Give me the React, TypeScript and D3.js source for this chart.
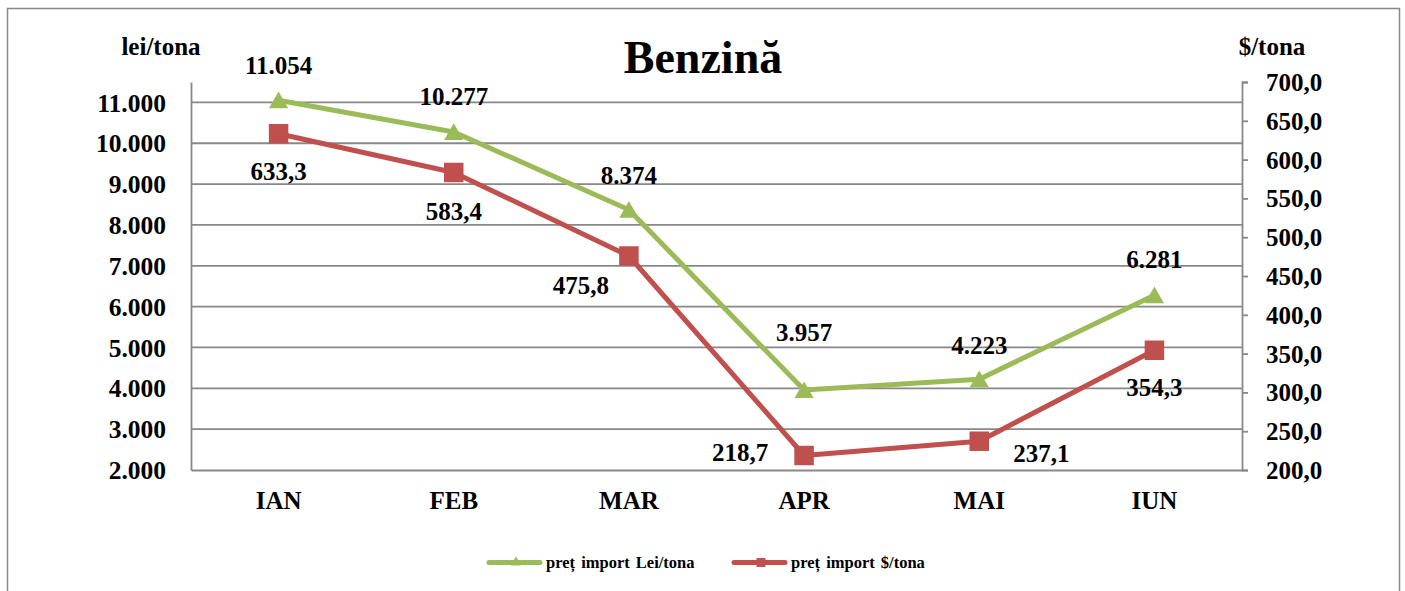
import React, { useEffect, useRef } from 'react';
import * as d3 from 'd3';

const months = ['IAN', 'FEB', 'MAR', 'APR', 'MAI', 'IUN'];
const leiValues = [11054, 10277, 8374, 3957, 4223, 6281];
const usdValues = [633.3, 583.4, 475.8, 218.7, 237.1, 354.3];
const leiTicks = [2000, 3000, 4000, 5000, 6000, 7000, 8000, 9000, 10000, 11000];
const usdTicks = [200, 250, 300, 350, 400, 450, 500, 550, 600, 650, 700];
const seriesNames = ['preț import Lei/tona', 'preț import $/tona'];

// label offsets (dx, dy) relative to marker, like manual Excel label placement
const leiLabelPos = [[0, -35], [0, -35], [0, -34], [0, -58], [0, -34], [0, -36]];
const usdLabelPos = [[0, 38], [0, 39], [-48, 30], [-64, -3], [62, 12], [0, 37]];

const W = 1405;
const H = 591;
const FONT = 'Liberation Serif, Tinos, serif';
const GREEN = '#9BBB59';
const RED = '#C0504D';
const GRID = '#888';

const fmtLei = (v: number) => d3.format(',')(v).replace(/,/g, '.');
const fmtUsd = (v: number) => v.toFixed(1).replace('.', ',');

export default function App() {
    const svgRef = useRef<SVGSVGElement>(null);

    useEffect(() => {
        const svg = d3.select(svgRef.current);
        svg.selectAll('*').remove();
        svg.style('font-family', FONT).style('font-weight', 'bold');

        const margin = { top: 82, right: 163, bottom: 121, left: 191 };
        const width = W - margin.left - margin.right;
        const height = H - margin.top - margin.bottom;

        // outer frame
        svg.append('path')
            .attr('d', `M7.5,${H + 5} V8.5 H1399.5 V${H + 5}`)
            .attr('fill', 'none')
            .attr('stroke', GRID)
            .attr('stroke-width', 1.5);

        const chart = svg.append('g')
            .attr('transform', `translate(${margin.left},${margin.top})`);

        const x = d3.scaleBand().domain(months).range([0, width]);
        const yLei = d3.scaleLinear().domain([2000, 11500]).range([height, 0]);
        const yUsd = d3.scaleLinear().domain([200, 700]).range([height, 0]);
        const cx = (m: string) => (x(m) as number) + x.bandwidth() / 2;

        // gridlines
        chart.append('g')
            .selectAll('line')
            .data(leiTicks.slice(1))
            .join('line')
            .attr('x1', 0)
            .attr('x2', width)
            .attr('y1', (d) => yLei(d))
            .attr('y2', (d) => yLei(d))
            .attr('stroke', GRID)
            .attr('stroke-width', 1.8);

        const styleText = (sel: any, size: number) => sel
            .style('font-family', FONT).style('font-weight', 'bold')
            .attr('font-size', size).attr('fill', '#000');

        // left axis
        const left = chart.append('g')
            .call(d3.axisLeft(yLei).tickValues(leiTicks).tickSize(0).tickPadding(25).tickFormat((d) => fmtLei(+d)));
        left.select('.domain').attr('stroke', GRID).attr('stroke-width', 1.8);
        styleText(left.selectAll('text'), 25.5).attr('dy', '0.34em');

        // bottom axis
        const bottom = chart.append('g')
            .attr('transform', `translate(0,${height})`)
            .call(d3.axisBottom(x).tickSize(0).tickPadding(21));
        bottom.select('.domain').attr('stroke', GRID).attr('stroke-width', 1.8);
        styleText(bottom.selectAll('text'), 25);

        // right axis
        const right = chart.append('g')
            .attr('transform', `translate(${width},0)`)
            .call(d3.axisRight(yUsd).tickValues(usdTicks).tickSize(6).tickPadding(18).tickFormat((d) => fmtUsd(+d)));
        right.select('.domain').attr('stroke', GRID).attr('stroke-width', 1.8);
        right.selectAll('line').attr('stroke', GRID).attr('stroke-width', 1.8);
        styleText(right.selectAll('text'), 25).attr('dy', '0.34em');

        // lines
        const leiLine = d3.line<number>().x((_, i) => cx(months[i])).y((d) => yLei(d));
        const usdLine = d3.line<number>().x((_, i) => cx(months[i])).y((d) => yUsd(d));

        chart.append('path').datum(leiValues)
            .attr('d', leiLine).attr('fill', 'none').attr('stroke', GREEN)
            .attr('stroke-width', 5).attr('stroke-linejoin', 'round').attr('stroke-linecap', 'round');
        chart.append('path').datum(usdValues)
            .attr('d', usdLine).attr('fill', 'none').attr('stroke', RED)
            .attr('stroke-width', 5).attr('stroke-linejoin', 'round').attr('stroke-linecap', 'round');

        // markers
        const tri = d3.symbol().type(d3.symbolTriangle).size(160);
        const sq = d3.symbol().type(d3.symbolSquare).size(380);
        chart.append('g').selectAll('path')
            .data(leiValues)
            .join('path')
            .attr('d', tri)
            .attr('transform', (d, i) => `translate(${cx(months[i])},${yLei(d) + 2.5})`)
            .attr('fill', GREEN);
        chart.append('g').selectAll('path')
            .data(usdValues)
            .join('path')
            .attr('d', sq)
            .attr('transform', (d, i) => `translate(${cx(months[i])},${yUsd(d)})`)
            .attr('fill', RED);

        // data labels
        styleText(chart.append('g').selectAll('text')
            .data(leiValues)
            .join('text')
            .attr('x', (d, i) => cx(months[i]) + leiLabelPos[i][0])
            .attr('y', (d, i) => yLei(d) + leiLabelPos[i][1])
            .attr('dy', '0.34em')
            .attr('text-anchor', 'middle')
            .text((d) => fmtLei(d)), 25);
        styleText(chart.append('g').selectAll('text')
            .data(usdValues)
            .join('text')
            .attr('x', (d, i) => cx(months[i]) + usdLabelPos[i][0])
            .attr('y', (d, i) => yUsd(d) + usdLabelPos[i][1])
            .attr('dy', '0.34em')
            .attr('text-anchor', 'middle')
            .text((d) => fmtUsd(d)), 25);

        // title
        styleText(svg.append('text')
            .attr('x', 703).attr('y', 73)
            .attr('text-anchor', 'middle')
            .text('Benzină'), 46);

        // axis titles
        styleText(svg.append('text')
            .attr('x', 161).attr('y', 55)
            .attr('text-anchor', 'middle')
            .text('lei/tona'), 25);
        styleText(svg.append('text')
            .attr('x', 1272).attr('y', 55)
            .attr('text-anchor', 'middle')
            .text('$/tona'), 25);

        // legend
        const legend = svg.append('g').attr('transform', 'translate(0,562.5)');
        const items = [
            { name: seriesNames[0], color: GREEN, symbol: d3.symbol().type(d3.symbolTriangle).size(45), x: 489 },
            { name: seriesNames[1], color: RED, symbol: d3.symbol().type(d3.symbolSquare).size(80), x: 734 },
        ];
        items.forEach((it) => {
            const g = legend.append('g').attr('transform', `translate(${it.x},0)`);
            g.append('line')
                .attr('x1', 0).attr('x2', 51).attr('y1', 0).attr('y2', 0)
                .attr('stroke', it.color).attr('stroke-width', 5).attr('stroke-linecap', 'round');
            g.append('path').attr('d', it.symbol).attr('transform', 'translate(27,0)').attr('fill', it.color);
            styleText(g.append('text')
                .attr('x', 57).attr('y', 0).attr('dy', '0.33em')
                .style('word-spacing', '2px')
                .text(it.name), 16.5);
        });
    }, []);

    return (
        <div style={{ position: 'absolute', left: 0, top: 0 }}>
            <svg ref={svgRef} width={W} height={H} style={{ display: 'block', background: '#fff' }} />
        </div>
    );
}
